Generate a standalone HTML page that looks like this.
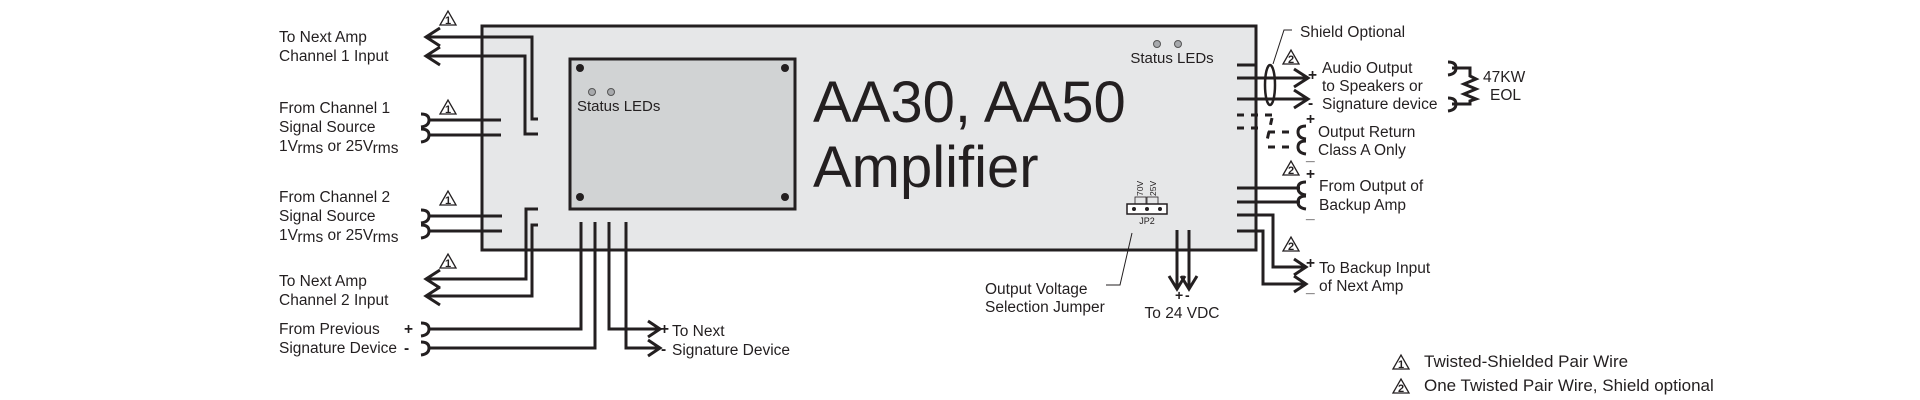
<!DOCTYPE html>
<html><head><meta charset="utf-8"><style>
html,body{margin:0;padding:0;background:#fff;}
svg{display:block;}
text{font-family:"Liberation Sans",Arial,sans-serif;fill:#231f20;}
</style></head><body>
<svg width="1920" height="400" viewBox="0 0 1920 400" xmlns="http://www.w3.org/2000/svg">
<defs>
<g id="t1"><path d="M0,14 L8,0 L16,14 Z" fill="#fff" stroke="#231f20" stroke-width="1.3"/><text x="8" y="13" font-size="11" font-weight="bold" text-anchor="middle">1</text></g>
<g id="t2"><path d="M0,14 L8,0 L16,14 Z" fill="#fff" stroke="#231f20" stroke-width="1.3"/><text x="8" y="13" font-size="11" font-weight="bold" text-anchor="middle">2</text></g>
</defs>
<rect x="482" y="26" width="774" height="224" fill="#e6e7e8" stroke="#231f20" stroke-width="3"/>
<rect x="570" y="59" width="225" height="150" fill="#d1d3d4" stroke="#231f20" stroke-width="3"/>
<circle cx="580" cy="68" r="4" fill="#231f20"/><circle cx="785" cy="68" r="4" fill="#231f20"/>
<circle cx="580" cy="197" r="4" fill="#231f20"/><circle cx="785" cy="197" r="4" fill="#231f20"/>
<circle cx="592" cy="92" r="3.5" fill="#a7a9ac" stroke="#555" stroke-width="1"/><circle cx="611" cy="92" r="3.5" fill="#a7a9ac" stroke="#555" stroke-width="1"/>
<text x="577" y="111" font-size="15">Status LEDs</text>
<text x="813" y="122" font-size="58">AA30, AA50</text>
<text x="813" y="187" font-size="58">Amplifier</text>
<circle cx="1157" cy="44" r="3.5" fill="#a7a9ac" stroke="#555" stroke-width="1"/><circle cx="1178" cy="44" r="3.5" fill="#a7a9ac" stroke="#555" stroke-width="1"/>
<text x="1172" y="63" font-size="15" text-anchor="middle">Status LEDs</text>

<g fill="none" stroke="#231f20" stroke-width="3">
<polyline points="426,37 532,37 532,119 538,119"/>
<polyline points="426,56 525,56 525,134 538,134"/>
<polyline points="440,28 426,37 440,46"/><polyline points="440,47 426,56 440,65"/>
<line x1="428" y1="120" x2="501" y2="120"/><line x1="428" y1="135" x2="501" y2="135"/>
<line x1="428" y1="216" x2="502" y2="216"/><line x1="428" y1="231" x2="502" y2="231"/>
<polyline points="538,209 526,209 526,279 426,279"/>
<polyline points="538,225 532,225 532,296 426,296"/>
<polyline points="440,270 426,279 440,288"/><polyline points="440,287 426,296 440,305"/>
<polyline points="581,222 581,329 428,329"/>
<polyline points="595,222 595,348 428,348"/>
<polyline points="609,222 609,329 660,329"/>
<polyline points="626,222 626,348 660,348"/>
<polyline points="648,321 660,329 648,337"/><polyline points="648,340 660,348 648,356"/>
<line x1="1237" y1="65" x2="1256" y2="65"/>
<line x1="1237" y1="78" x2="1308" y2="78"/>
<line x1="1237" y1="99" x2="1308" y2="99"/>
<polyline points="1294,69 1308,78 1294,87"/><polyline points="1294,90 1308,99 1294,108"/>
<line x1="1237" y1="188" x2="1300" y2="188"/><line x1="1237" y1="202" x2="1300" y2="202"/>
<polyline points="1237,215 1273,215 1273,267 1306,267"/>
<polyline points="1237,231 1263,231 1263,284 1306,284"/>
<polyline points="1294,259 1306,267 1294,275"/><polyline points="1294,276 1306,284 1294,292"/>
<line x1="1177" y1="230" x2="1177" y2="288"/><line x1="1189" y1="230" x2="1189" y2="288"/>
<polyline points="1169,276 1177,289 1185,276"/><polyline points="1181,276 1189,289 1197,276"/>
<polyline points="1452,68 1470,68 1470,76 1476,79 1464,84 1476,89 1464,94 1476,99 1470,101 1470,104 1452,104"/>
</g>
<g fill="none" stroke="#231f20" stroke-width="3" stroke-dasharray="7,7">
<line x1="1237" y1="115" x2="1275" y2="115"/>
<line x1="1237" y1="128" x2="1262" y2="128"/>
<line x1="1272" y1="118" x2="1266" y2="145"/>
<line x1="1268" y1="132" x2="1296" y2="132"/>
<line x1="1268" y1="147" x2="1296" y2="147"/>
</g>
<g fill="none" stroke="#231f20" stroke-width="3">
<path d="M421,114 Q429,114 429,120 Q429,126 421,127"/><path d="M421,129 Q429,129 429,135 Q429,141 421,142"/>
<path d="M421,210 Q429,210 429,216 Q429,222 421,223"/><path d="M421,225 Q429,225 429,231 Q429,237 421,238"/>
<path d="M421,323 Q429,323 429,329 Q429,335 421,336"/><path d="M421,342 Q429,342 429,348 Q429,354 421,355"/>
<path d="M1306,126 Q1298,126 1298,132 Q1298,138 1306,139"/><path d="M1306,141 Q1298,141 1298,147 Q1298,153 1306,154"/>
<path d="M1306,182 Q1298,182 1298,188 Q1298,194 1306,195"/><path d="M1306,196 Q1298,196 1298,202 Q1298,208 1306,209"/>
<path d="M1448,62 Q1456,62 1456,68 Q1456,74 1448,75"/><path d="M1448,98 Q1456,98 1456,104 Q1456,110 1448,111"/>
</g>
<ellipse cx="1270" cy="85" rx="5" ry="20" fill="none" stroke="#231f20" stroke-width="2.5"/>
<polyline points="1273,64 1284,30 1292,30" fill="none" stroke="#231f20" stroke-width="1"/>
<text x="1300" y="37" font-size="15.5">Shield Optional</text>
<rect x="1127" y="204" width="40" height="10" fill="#fff" stroke="#231f20" stroke-width="1.5"/>
<circle cx="1134" cy="209" r="2" fill="#231f20"/><circle cx="1147" cy="209" r="2" fill="#231f20"/><circle cx="1160" cy="209" r="2" fill="#231f20"/>
<rect x="1135" y="197" width="11" height="7" fill="none" stroke="#231f20" stroke-width="0.8"/>
<rect x="1147" y="197" width="11" height="7" fill="none" stroke="#231f20" stroke-width="0.8"/>
<text transform="translate(1143,196) rotate(-90)" font-size="8.5">70V</text>
<text transform="translate(1156,196) rotate(-90)" font-size="8.5">25V</text>
<text x="1147" y="224" font-size="9" text-anchor="middle">JP2</text>
<polyline points="1132,233 1120,285 1106,285" fill="none" stroke="#231f20" stroke-width="1"/>
<text x="985" y="294" font-size="15.5">Output Voltage</text>
<text x="985" y="312" font-size="15.5">Selection Jumper</text>
<text x="1175" y="300" font-size="14" font-weight="bold">+</text><text x="1185" y="300" font-size="14" font-weight="bold">-</text>
<text x="1182" y="318" font-size="15.5" text-anchor="middle">To 24 VDC</text>
<g font-size="15.5">
<text x="279" y="42">To Next Amp</text><text x="279" y="61">Channel 1 Input</text>
<text x="279" y="113">From Channel 1</text><text x="279" y="132">Signal Source</text>
<text x="279" y="151">1V<tspan dy="2">rms</tspan><tspan dy="-2"> or 25V</tspan><tspan dy="2">rms</tspan></text>
<text x="279" y="202">From Channel 2</text><text x="279" y="221">Signal Source</text>
<text x="279" y="240">1V<tspan dy="2">rms</tspan><tspan dy="-2"> or 25V</tspan><tspan dy="2">rms</tspan></text>
<text x="279" y="286">To Next Amp</text><text x="279" y="305">Channel 2 Input</text>
<text x="279" y="334">From Previous</text><text x="279" y="353">Signature Device</text>
<text x="404" y="334" font-weight="bold">+</text><text x="404" y="353" font-weight="bold">-</text>
<text x="672" y="336">To Next</text><text x="672" y="355">Signature Device</text>
<text x="660" y="334" font-weight="bold">+</text><text x="661" y="354" font-weight="bold">-</text>
<text x="1322" y="73">Audio Output</text><text x="1322" y="91">to Speakers or</text><text x="1322" y="109">Signature device</text>
<text x="1308" y="80" font-weight="bold">+</text><text x="1308" y="108" font-weight="bold">-</text>
<text x="1318" y="137">Output Return</text><text x="1318" y="155">Class A Only</text>
<text x="1306" y="124" font-weight="bold">+</text><text x="1306" y="160" font-weight="bold">_</text>
<text x="1319" y="191">From Output of</text><text x="1319" y="210">Backup Amp</text>
<text x="1306" y="179" font-weight="bold">+</text><text x="1306" y="218" font-weight="bold">_</text>
<text x="1319" y="273">To Backup Input</text><text x="1319" y="291">of Next Amp</text>
<text x="1306" y="268" font-weight="bold">+</text><text x="1306" y="292" font-weight="bold">_</text>
<text x="1483" y="82">47KW</text><text x="1490" y="100">EOL</text>
</g>
<use href="#t1" x="440" y="11"/><use href="#t1" x="440" y="100"/><use href="#t1" x="440" y="191"/><use href="#t1" x="440" y="254"/>
<use href="#t2" x="1283" y="50"/><use href="#t2" x="1283" y="161"/><use href="#t2" x="1283" y="237"/>
<use href="#t1" x="1393" y="355"/><use href="#t2" x="1393" y="379"/>
<text x="1424" y="367" font-size="17">Twisted-Shielded Pair Wire</text>
<text x="1424" y="391" font-size="17">One Twisted  Pair Wire, Shield optional</text>
</svg>
</body></html>
